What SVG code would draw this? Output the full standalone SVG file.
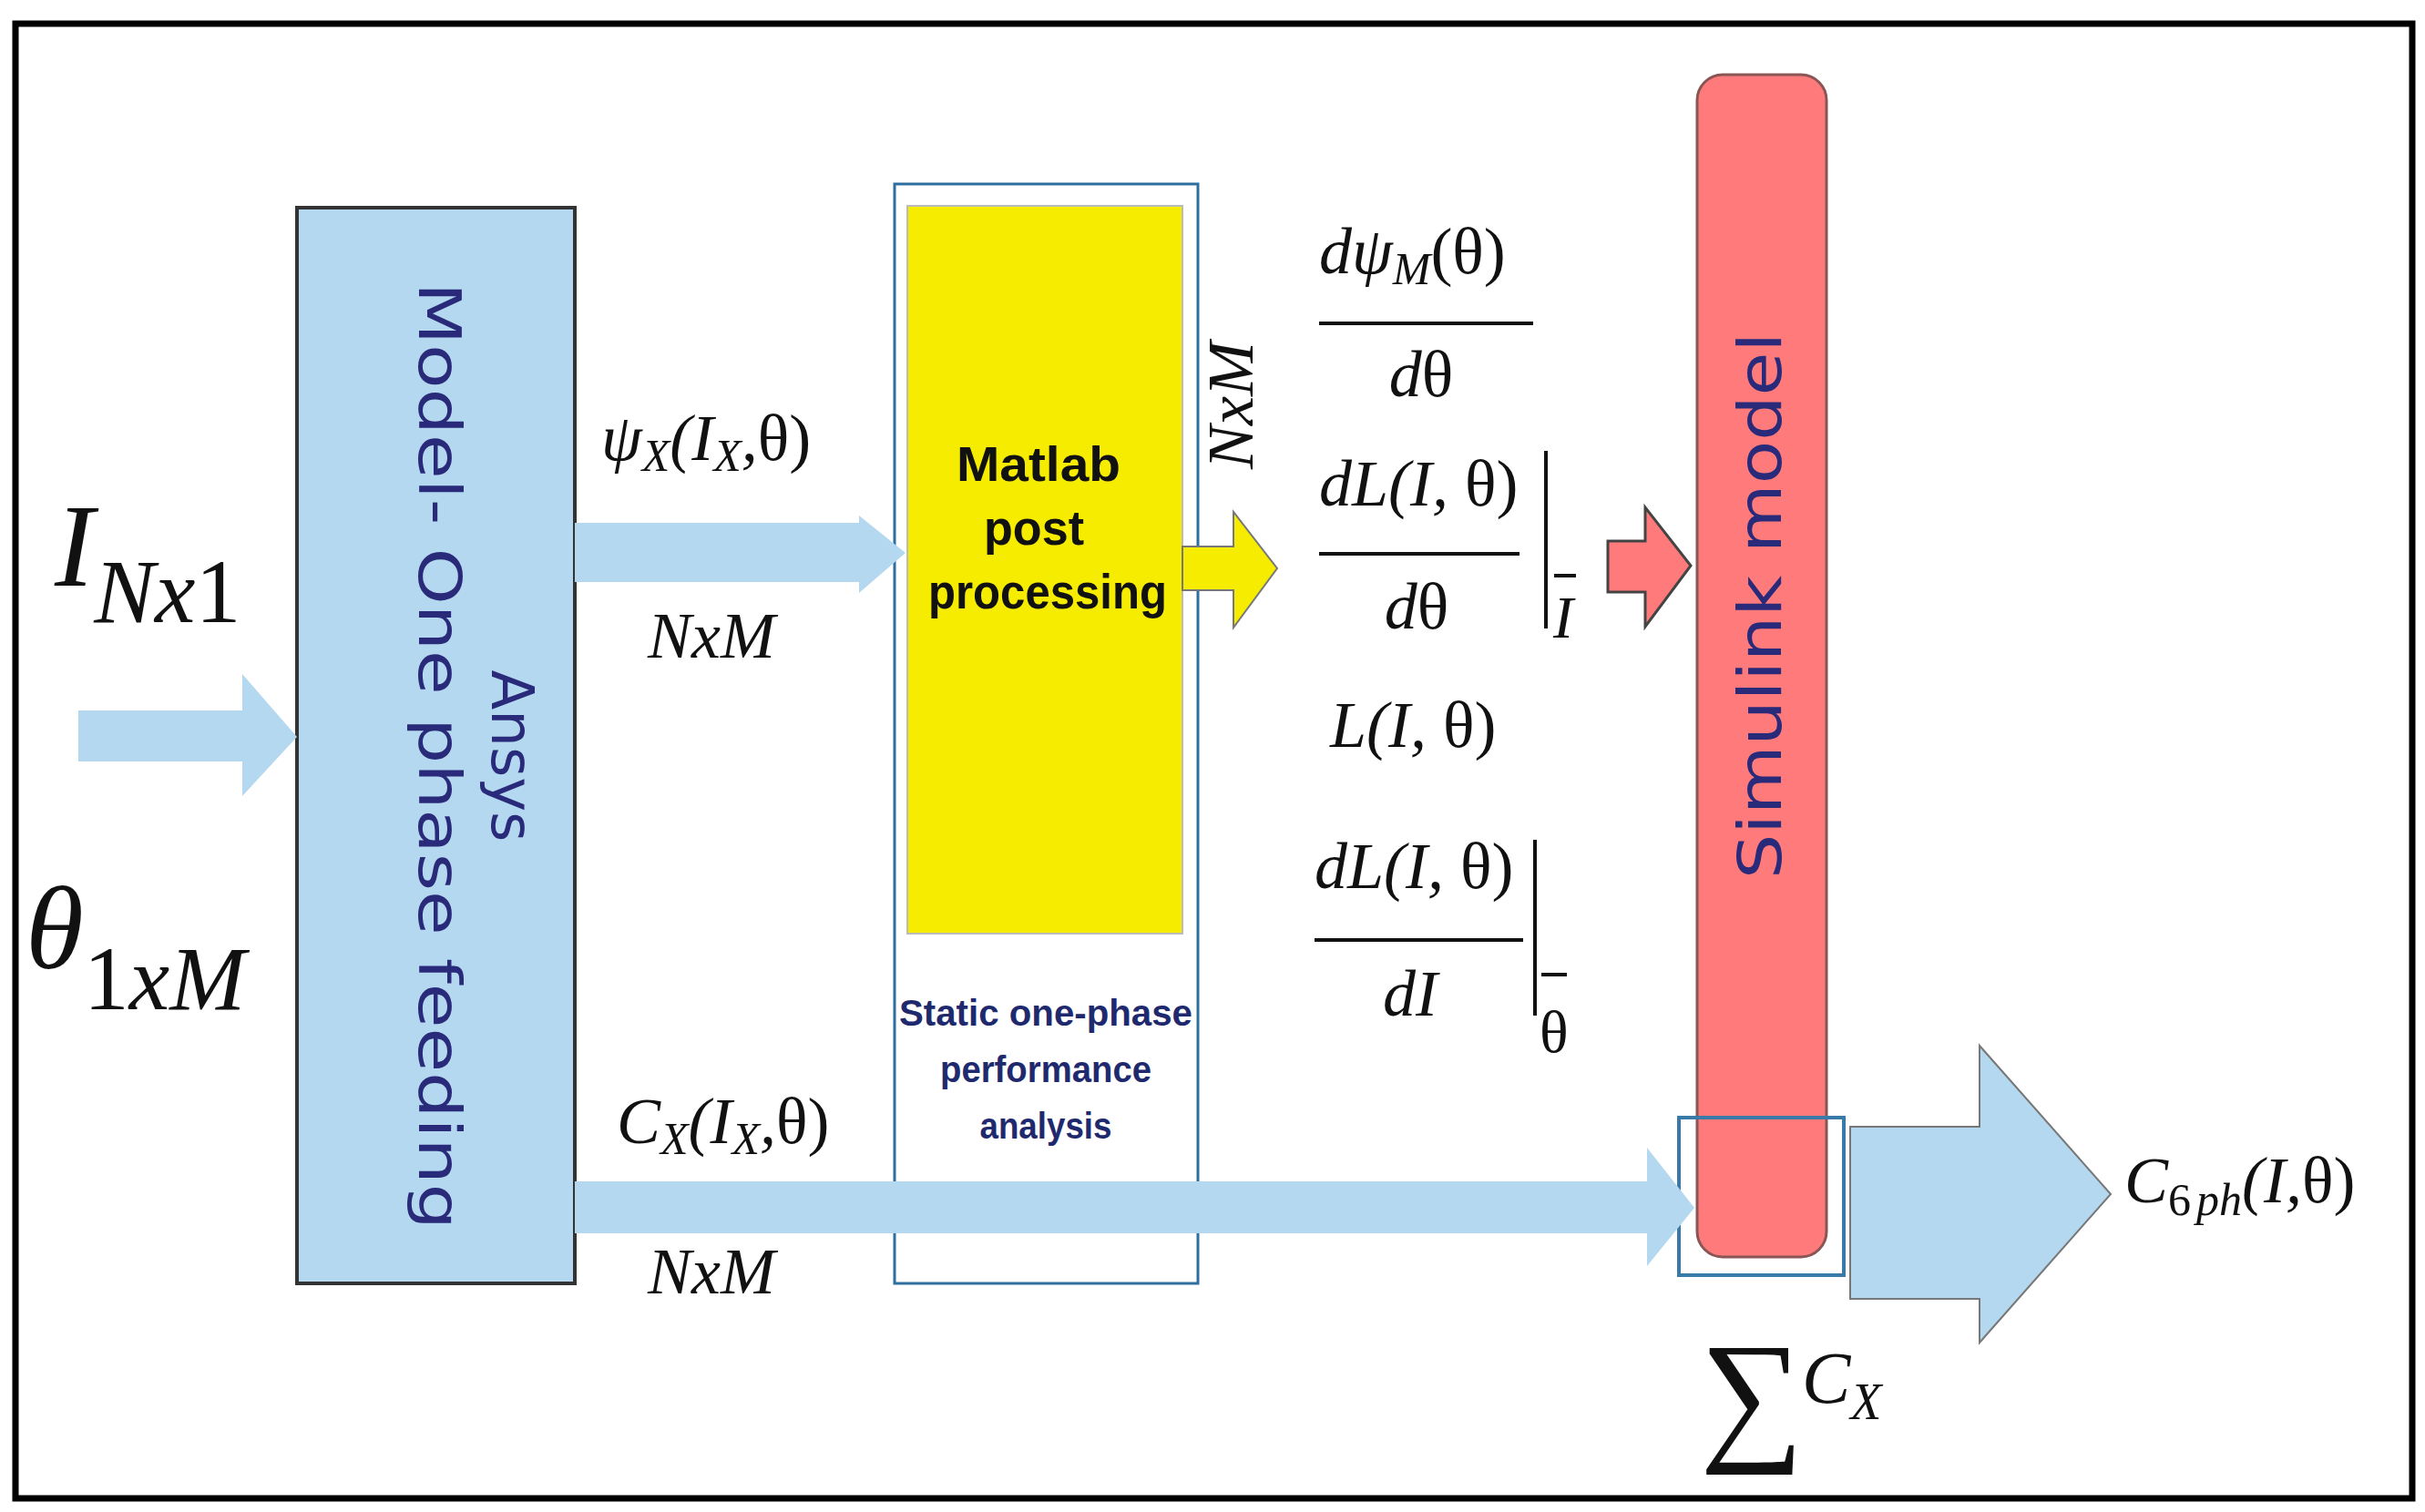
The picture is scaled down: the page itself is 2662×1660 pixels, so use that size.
<svg xmlns="http://www.w3.org/2000/svg" width="2662" height="1660" viewBox="0 0 2662 1660">
<style>
.m{font-family:"Liberation Serif",serif;font-style:italic;fill:#111}
.u{font-family:"Liberation Serif",serif;fill:#111}
.b{fill:#b4d8ef}
.s{font-family:"DejaVu Sans",sans-serif;fill:#2a2a7a}
.ln{stroke:#111;stroke-width:4}
</style>
<rect x="17" y="26" width="2631" height="1619" fill="#fff" stroke="#000" stroke-width="7"/>
<g id="ansys">
<rect x="326" y="228" width="305" height="1181" fill="#b4d8ef" stroke="#333" stroke-width="4"/>
<text class="s" font-size="64" transform="translate(540,830) rotate(90)" text-anchor="middle">Ansys</text>
<text class="s" font-size="64" transform="translate(460,830) rotate(90)" text-anchor="middle" textLength="1040" lengthAdjust="spacingAndGlyphs">Model- One phase feeding</text>
</g>
<g id="matlab">
<rect x="982" y="202" width="333" height="1207" fill="#fff" stroke="#2f6f9f" stroke-width="3"/>
<rect x="996" y="226" width="302" height="799" fill="#f5ec00" stroke="#bbb" stroke-width="2"/>
<g font-family="Liberation Sans Narrow,Liberation Sans,sans-serif" font-weight="bold" font-size="54" text-anchor="middle" fill="#111">
<text x="1140" y="528" textLength="180" lengthAdjust="spacingAndGlyphs">Matlab</text><text x="1135" y="598" textLength="110" lengthAdjust="spacingAndGlyphs">post</text><text x="1150" y="668" textLength="262" lengthAdjust="spacingAndGlyphs">processing</text></g>
<g font-family="Liberation Sans Narrow,Liberation Sans,sans-serif" font-weight="bold" font-size="40" text-anchor="middle" fill="#1f2a6e">
<text x="1148" y="1126" textLength="322" lengthAdjust="spacingAndGlyphs">Static one-phase</text><text x="1148" y="1188" textLength="232" lengthAdjust="spacingAndGlyphs">performance</text><text x="1148" y="1250" textLength="145" lengthAdjust="spacingAndGlyphs">analysis</text></g>
</g>
<g id="simulink">
<rect x="1863" y="82" width="142" height="1298" rx="28" fill="#ff7b7b" stroke="#8a5555" stroke-width="3"/>
<text class="s" font-size="66" transform="translate(1955,665) rotate(-90)" text-anchor="middle" textLength="600" lengthAdjust="spacingAndGlyphs">Simulink model</text>
<rect x="1843" y="1227" width="181" height="173" fill="none" stroke="#3a7aa8" stroke-width="4"/>
</g>
<g id="connectors">
<polygon class="b" points="86,780 266,780 266,740 326,809 266,874 266,836 86,836"/>
<polygon class="b" points="631,574 943,574 943,566 994,607 943,651 943,639 631,639"/>
<polygon class="b" points="631,1297 1808,1297 1808,1260 1860,1326 1808,1390 1808,1354 631,1354"/>
<polygon points="1298,600 1354,600 1354,562 1402,624 1354,689 1354,648 1298,648" fill="#f5ec00" stroke="#777" stroke-width="2"/>
<polygon points="1765,594 1806,594 1806,557 1856,621 1806,688 1806,650 1765,650" fill="#ff7b7b" stroke="#444" stroke-width="3"/>
<polygon class="b" points="2031,1237 2173,1237 2173,1148 2317,1311 2173,1474 2173,1426 2031,1426" stroke="#777" stroke-width="2"/>
</g>
<g id="labels">
<text class="m" x="60" y="643" font-size="130">I<tspan font-size="100" dy="40">Nx</tspan><tspan class="u" font-style="normal" font-size="100">1</tspan></text>
<text class="m" x="28" y="1063" font-size="130">θ<tspan class="u" font-style="normal" font-size="100" dy="45">1</tspan><tspan font-size="100">xM</tspan></text>
<text class="m" x="660" y="505" font-size="72">ψ<tspan font-size="50" dy="12">X</tspan><tspan dy="-12">(I</tspan><tspan font-size="50" dy="12">X</tspan><tspan dy="-12">,</tspan><tspan font-style="normal">θ)</tspan></text>
<text class="m" x="711" y="722" font-size="72">NxM</text>
<text class="m" x="677" y="1255" font-size="72">C<tspan font-size="50" dy="12">X</tspan><tspan dy="-12">(I</tspan><tspan font-size="50" dy="12">X</tspan><tspan dy="-12">,</tspan><tspan font-style="normal">θ)</tspan></text>
<text class="m" x="711" y="1420" font-size="72">NxM</text>
<text class="m" font-size="72" transform="translate(1375,445) rotate(-90)" text-anchor="middle">NxM</text>
<text class="m" x="1448" y="300" font-size="72">dψ<tspan font-size="50" dy="12">M</tspan><tspan dy="-12" font-style="normal">(θ)</tspan></text>
<line class="ln" x1="1448" y1="355" x2="1683" y2="355"/>
<text class="m" x="1560" y="435" font-size="72" text-anchor="middle">d<tspan font-style="normal">θ</tspan></text>
<text class="m" x="1448" y="555" font-size="72">dL(I, <tspan font-style="normal">θ)</tspan></text>
<line class="ln" x1="1448" y1="608" x2="1668" y2="608"/>
<text class="m" x="1555" y="690" font-size="72" text-anchor="middle">d<tspan font-style="normal">θ</tspan></text>
<line class="ln" x1="1697" y1="495" x2="1697" y2="690"/>
<text class="m" x="1705" y="700" font-size="66">I</text>
<line x1="1706" y1="632" x2="1730" y2="632" stroke="#111" stroke-width="4"/>
<text class="m" x="1460" y="820" font-size="72">L(I, <tspan font-style="normal">θ)</tspan></text>
<text class="m" x="1443" y="975" font-size="72">dL(I, <tspan font-style="normal">θ)</tspan></text>
<line class="ln" x1="1443" y1="1032" x2="1672" y2="1032"/>
<text class="m" x="1548" y="1115" font-size="72" text-anchor="middle">dI</text>
<line class="ln" x1="1685" y1="922" x2="1685" y2="1115"/>
<text class="u" x="1690" y="1155" font-size="66">θ</text>
<line x1="1692" y1="1070" x2="1720" y2="1070" stroke="#111" stroke-width="4"/>
<text class="m" x="2332" y="1320" font-size="72">C<tspan font-size="50" class="u" font-style="normal" dy="14">6</tspan><tspan font-size="50" dx="6">ph</tspan><tspan dy="-14">(I,</tspan><tspan font-style="normal">θ)</tspan></text>
<text class="u" x="1866" y="1585" font-size="160">∑</text>
<text class="m" x="1978" y="1540" font-size="80">C<tspan font-size="56" dy="18">X</tspan></text>
</g>
</svg>
